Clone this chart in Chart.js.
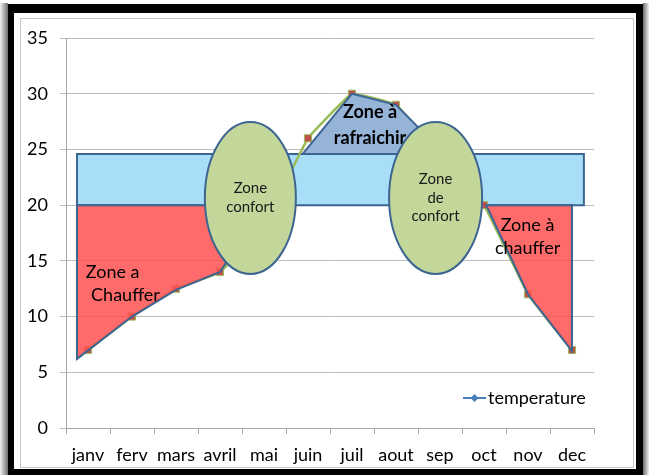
<!DOCTYPE html>
<html>
<head>
<meta charset="utf-8">
<script src="https://cdn.jsdelivr.net/npm/chart.js@4.4.0/dist/chart.umd.min.js"></script>
<style>
html,body{margin:0;padding:0;background:#fff;}
#wrap{width:649px;height:475px;position:relative;}
</style>
</head>
<body>
<div id="wrap"><canvas id="c" width="649" height="475"></canvas></div>
<script>
// ---- data ----
const months = ['janv','ferv','mars','avril','mai','juin','juil','aout','sep','oct','nov','dec'];
const temperature = [7, 10, 12.5, 14, 18.3, 26, 30, 29, 24.5, 20, 12, 7];
const seriesName = 'temperature';
const yMin = 0, yMax = 35, yStep = 5;

// ---- zones drawn over the chart (in category-index / °C units) ----
const comfortBand = [[-0.25, 20], [11.27, 24.6]];
const heatZoneLeft = [[-0.25, 20], [-0.25, 6.2], [1, 10], [2, 12.4], [3, 14], [3.2, 15.2], [3.5, 20]];
const coolZone = [[4.88, 24.6], [6, 30], [7, 29], [8.1, 24.6]];
const heatZoneRight = [[9.05, 20], [11, 20], [11, 6.9], [10, 12]];
const comfortEllipses = [
  {cx: 3.69, cy: 20.65, rx: 1.034, ry: 6.82, lines: ['Zone', 'confort']},
  {cx: 7.9, cy: 20.65, rx: 1.057, ry: 6.82, lines: ['Zone', 'de', 'confort']}
];
const zoneLabels = [
  {x: -0.05, y: 14.0, text: 'Zone a', align: 'left', bold: false},
  {x: 0.07, y: 11.9, text: 'Chauffer', align: 'left', bold: false},
  {x: 6.41, y: 28.3, text: 'Zone à', align: 'center', bold: true},
  {x: 6.41, y: 26.0, text: 'rafraichir', align: 'center', bold: true},
  {x: 9.99, y: 18.2, text: 'Zone à', align: 'center', bold: false},
  {x: 9.99, y: 16.1, text: 'chauffer', align: 'center', bold: false}
];

const FONT = 'Lato, "Liberation Sans", Arial, sans-serif';
const EDGE = '#3C6591';

function P(chart, p) {
  return [chart.scales.x.getPixelForValue(p[0]), chart.scales.y.getPixelForValue(p[1])];
}
function poly(ctx, chart, pts, fill) {
  ctx.beginPath();
  pts.forEach((p, i) => { const q = P(chart, p); if (i === 0) ctx.moveTo(q[0], q[1]); else ctx.lineTo(q[0], q[1]); });
  ctx.closePath();
  ctx.fillStyle = fill; ctx.fill();
  ctx.strokeStyle = EDGE; ctx.lineWidth = 2; ctx.lineJoin = 'miter'; ctx.stroke();
}

const overlay = {
  id: 'overlay',
  beforeDraw(chart) {
    const ctx = chart.ctx;
    ctx.save();
    ctx.fillStyle = '#fff'; ctx.fillRect(0, 0, 649, 475);
    let g = ctx.createLinearGradient(0, 0, 8, 0);
    g.addColorStop(0, '#f2f2f2'); g.addColorStop(1, '#6e6e6e');
    ctx.fillStyle = g; ctx.fillRect(0, 3, 8, 472);
    g = ctx.createLinearGradient(643, 0, 649, 0);
    g.addColorStop(0, '#6e6e6e'); g.addColorStop(1, '#eeeeee');
    ctx.fillStyle = g; ctx.fillRect(643, 3, 6, 472);
    ctx.fillStyle = '#000';
    ctx.fillRect(8, 4, 635, 9);
    ctx.fillRect(8, 4, 6, 471);
    ctx.fillRect(636, 4, 7, 471);
    ctx.fillRect(8, 469, 635, 6);
    ctx.strokeStyle = '#c6c6c6'; ctx.lineWidth = 1;
    ctx.strokeRect(20.5, 18.5, 613, 449);
    ctx.restore();
  },
  beforeDatasetsDraw(chart) {
    const ctx = chart.ctx;
    ctx.save();
    const a = P(chart, comfortBand[0]), b = P(chart, comfortBand[1]);
    ctx.beginPath();
    ctx.rect(a[0], b[1], b[0] - a[0], a[1] - b[1]);
    ctx.fillStyle = '#A8DEF8'; ctx.fill();
    ctx.strokeStyle = EDGE; ctx.lineWidth = 2; ctx.stroke();
    ctx.restore();
  },
  afterDatasetsDraw(chart) {
    const ctx = chart.ctx;
    ctx.save();
    poly(ctx, chart, heatZoneLeft, 'rgba(255,80,80,0.85)');
    poly(ctx, chart, heatZoneRight, 'rgba(255,80,80,0.85)');
    poly(ctx, chart, coolZone, '#96B4D8');
    ctx.fillStyle = '#000';
    ctx.textBaseline = 'middle';
    zoneLabels.forEach(l => {
      const q = P(chart, [l.x, l.y]);
      ctx.font = (l.bold ? 'bold ' : '') + '18px ' + FONT;
      ctx.textAlign = l.align;
      ctx.fillText(l.text, q[0], q[1]);
    });
    comfortEllipses.forEach(e => {
      const c = P(chart, [e.cx, e.cy]);
      const rx = Math.abs(chart.scales.x.getPixelForValue(e.cx + e.rx) - c[0]);
      const ry = Math.abs(chart.scales.y.getPixelForValue(e.cy + e.ry) - c[1]);
      ctx.beginPath();
      ctx.ellipse(c[0], c[1], rx, ry, 0, 0, Math.PI * 2);
      ctx.fillStyle = '#C4D79B'; ctx.fill();
      ctx.strokeStyle = EDGE; ctx.lineWidth = 2; ctx.stroke();
      ctx.fillStyle = '#1a1a1a';
      ctx.font = '15px ' + FONT;
      ctx.textAlign = 'center';
      const lh = 18.5;
      e.lines.forEach((t, i) => {
        ctx.fillText(t, c[0], c[1] + (i - (e.lines.length - 1) / 2) * lh);
      });
    });
    ctx.restore();
  },
  afterDraw(chart) {
    const ctx = chart.ctx;
    ctx.save();
    const y = 398;
    ctx.strokeStyle = '#4A7EBB'; ctx.lineWidth = 2;
    ctx.beginPath(); ctx.moveTo(463, y); ctx.lineTo(486, y); ctx.stroke();
    ctx.fillStyle = '#4A7EBB';
    ctx.beginPath(); ctx.moveTo(474.5, y - 4); ctx.lineTo(478.5, y); ctx.lineTo(474.5, y + 4); ctx.lineTo(470.5, y); ctx.closePath(); ctx.fill();
    ctx.fillStyle = '#000'; ctx.font = '18px ' + FONT;
    ctx.textAlign = 'left'; ctx.textBaseline = 'middle';
    ctx.fillText(chart.data.datasets[0].label, 488, y);
    ctx.restore();
  }
};

new Chart(document.getElementById('c'), {
  type: 'line',
  data: {
    labels: months,
    datasets: [{
      label: seriesName,
      data: temperature,
      borderColor: '#9BBB59',
      borderWidth: 2.5,
      pointStyle: 'rect',
      pointRadius: 5,
      pointBackgroundColor: '#C0504D',
      pointBorderColor: '#9BBB59',
      pointBorderWidth: 1,
      tension: 0.08,
      fill: false
    }]
  },
  options: {
    responsive: false,
    animation: false,
    devicePixelRatio: 1,
    layout: {padding: {left: 20, top: 38, right: 55, bottom: 0}},
    plugins: {legend: {display: false}, tooltip: {enabled: false}},
    scales: {
      x: {
        offset: true,
        grid: {offset: true, drawOnChartArea: false, tickLength: 6, color: '#a6a6a6'},
        border: {color: '#a6a6a6'},
        ticks: {font: {family: FONT, size: 18}, color: '#000', padding: 10, autoSkip: false, maxRotation: 0},
        afterFit(s) { s.height = 47; }
      },
      y: {
        min: yMin, max: yMax,
        ticks: {stepSize: yStep, font: {family: FONT, size: 18}, color: '#000', padding: 12},
        grid: {color: '#bdbdbd', tickLength: 6},
        border: {color: '#a6a6a6'},
        afterFit(s) { s.width = 46; }
      }
    }
  },
  plugins: [overlay]
});
</script>
</body>
</html>
